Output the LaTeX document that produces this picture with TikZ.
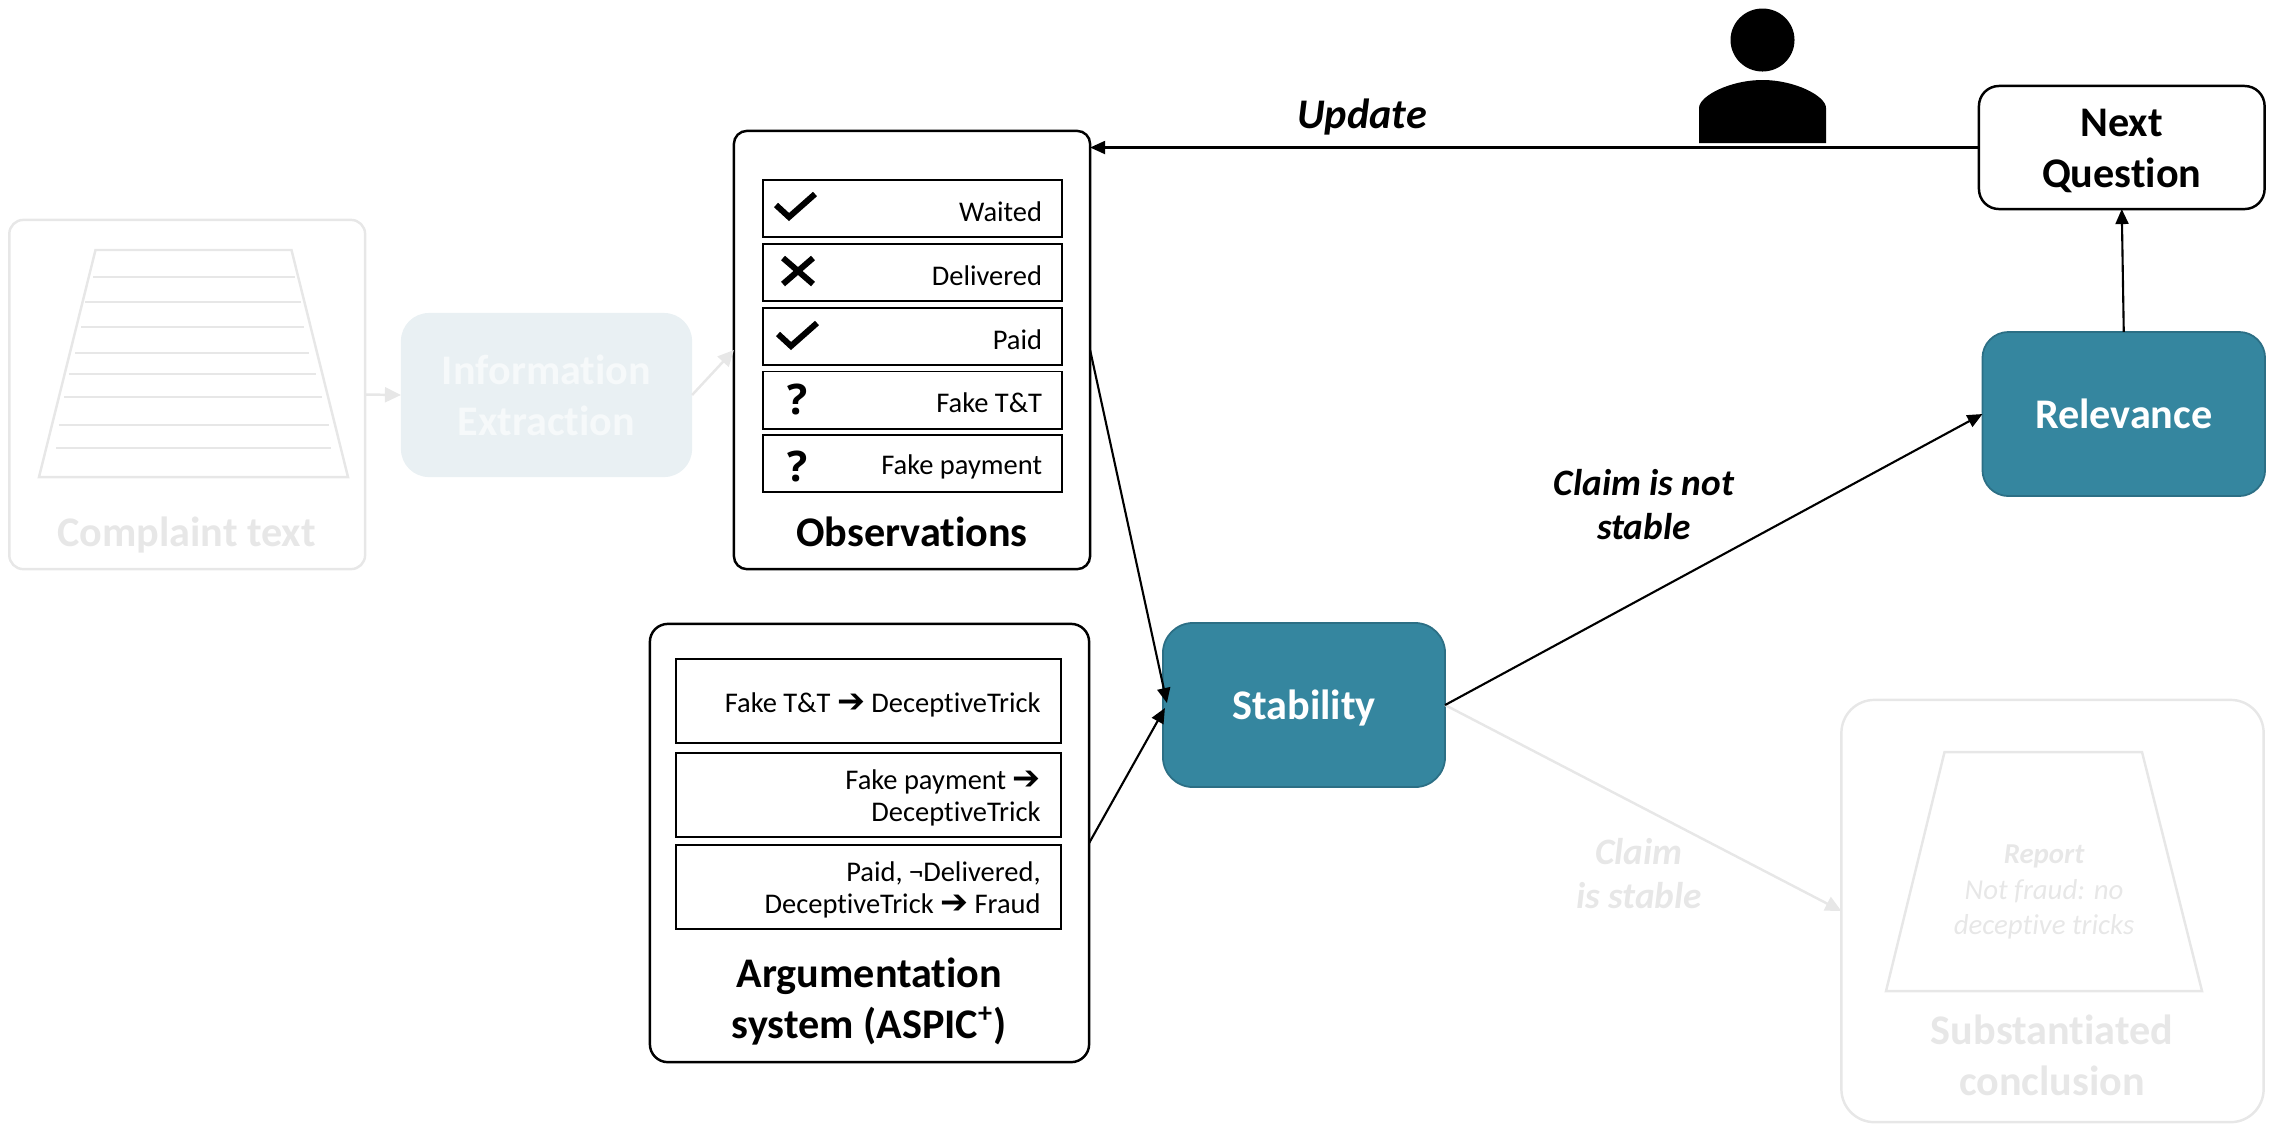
\documentclass[tikz,border=0pt]{standalone}
\usepackage{fontspec}
\setmainfont{Carlito}[Ligatures={NoCommon}]
\newfontfamily\symfont{DejaVu Sans}
\newfontfamily\qfont{Open Sans}
\usetikzlibrary{arrows.meta}
\definecolor{faint}{HTML}{E7E7E7}
\definecolor{tealfill}{HTML}{35869F}
\definecolor{tealedge}{HTML}{2C6F85}
\definecolor{paleblue}{HTML}{E9F0F3}
\definecolor{palefg}{HTML}{F6F9FA}
\newcommand{\bigfont}{\fontsize{12}{14.2}\selectfont}
\newcommand{\midfont}{\fontsize{10.6}{12.5}\selectfont}
\newcommand{\smallfont}{\fontsize{8.1}{9.25}\selectfont}
\newcommand{\rarr}{{\symfont\bfseries\fontsize{9.5}{9.25}\selectfont ➔}}
\tikzset{
  every node/.style={inner sep=0pt,outer sep=0pt},
  card/.style={draw=black,line width=0.7pt,fill=white,rectangle},
  ghostcard/.style={draw=faint,line width=0.7pt,rectangle},
  tealbox/.style={draw=tealedge,line width=0.5pt,fill=tealfill,text=white,text depth=0pt,font=\bigfont\bfseries,rectangle},
  rowbox/.style={draw=black,line width=0.55pt,rectangle,minimum width=2.99cm,minimum height=0.57cm},
  rulebox/.style={draw=black,line width=0.55pt,rectangle,minimum width=3.845cm,minimum height=0.84cm},
  boxtext/.style={anchor=east,align=right,font=\smallfont},
  boxtitle/.style={font=\bigfont\bfseries,align=center},
  ghosttitle/.style={font=\bigfont\bfseries,align=center,text=faint},
  edgelabel/.style={font=\bigfont\bfseries\itshape,align=center},
  sidelabel/.style={font=\midfont\bfseries\itshape,align=center},
  link/.style={draw=black,line width=0.6pt,-{Triangle[length=0.15cm,width=0.13cm]}},
  ghostlink/.style={draw=faint,line width=0.7pt,-{Triangle[length=0.16cm,width=0.15cm]}},
  tickmark/.style={draw=black,line width=1.7pt},
  ghostline/.style={draw=faint,line width=0.4pt},
  ghostshape/.style={draw=faint,line width=0.7pt,line join=miter},
  qmark/.style={font=\qfont\bfseries\fontsize{12}{12}\selectfont},
}
\begin{document}
\begin{tikzpicture}[x=0.01cm,y=-0.01cm]
\useasboundingbox (0,0) rectangle (2279,1123);

% faded left part
\node[ghostcard,rounded corners=0.14cm,minimum width=3.556cm,minimum height=3.49cm] (complaint) at (187.2,394.5) {};
\draw[ghostshape] (95.5,250) -- (291.5,250) -- (348,477) -- (39,477) -- cycle;
\draw[ghostline] (93,277) -- (294.5,277);
\draw[ghostline] (84.5,302) -- (300.5,302);
\draw[ghostline] (81,327) -- (304,327);
\draw[ghostline] (75,353) -- (308.5,353);
\draw[ghostline] (68.5,374) -- (315.5,374);
\draw[ghostline] (64,397) -- (322,397);
\draw[ghostline] (58.7,425) -- (328.5,425);
\draw[ghostline] (56,448) -- (331,448);
\node[ghosttitle] (complainttitle) at (186.5,535) {Complaint text};
\node[rectangle,fill=paleblue,rounded corners=0.28cm,minimum width=2.91cm,minimum height=1.64cm,
  font=\bigfont\bfseries,text=palefg,align=center] (ie) at (546.5,395) {Information\\[0.3pt]Extraction};

% observations
\node[card,rounded corners=0.13cm,minimum width=3.56cm,minimum height=4.38cm] (obs) at (912,350) {};
\node[rowbox] (r1) at (912.5,208.5) {};
\node[rowbox] (r2) at (912.5,272.5) {};
\node[rowbox] (r3) at (912.5,336.5) {};
\node[rowbox] (r4) at (912.5,400) {};
\node[rowbox] (r5) at (912.5,463.5) {};
\node[boxtext] (t1) at ([shift={(-20,3)}]r1.east) {Waited};
\node[boxtext] (t2) at ([shift={(-20,3)}]r2.east) {Delivered};
\node[boxtext] (t3) at ([shift={(-20,3)}]r3.east) {Paid};
\node[boxtext] (t4) at ([shift={(-20,3)}]r4.east) {Fake T\&T};
\node[boxtext] (t5) at ([shift={(-20,3)}]r5.east) {Fake payment};
\draw[tickmark] (776,205) -- (789,217) -- (815,194);
\draw[tickmark] (783,258) -- (813,284) (813,258) -- (783,284);
\draw[tickmark] (778,334) -- (791,346) -- (817,323);
\node[qmark] (q1) at (798,399) {?};
\node[qmark] (q2) at (798,466.5) {?};
\node[boxtitle] (obstitle) at (912,532) {Observations};

% argumentation system
\node[card,rounded corners=0.18cm,minimum width=4.39cm,minimum height=4.38cm] (arg) at (869.5,843) {};
\node[rulebox] (a1) at (868.25,701) {};
\node[rulebox] (a2) at (868.25,795) {};
\node[rulebox] (a3) at (868.25,887) {};
\node[boxtext] (at1) at ([shift={(-20,4)}]a1.east) {Fake T\&T \rarr{} DeceptiveTrick};
\node[boxtext] (at2) at ([shift={(-20,3)}]a2.east) {Fake payment \rarr{}\\DeceptiveTrick};
\node[boxtext] (at3) at ([shift={(-20,3)}]a3.east) {Paid, ¬Delivered,\\DeceptiveTrick \rarr{} Fraud};
\node[boxtitle] (argtitle) at (869.5,1001) {Argumentation\\[0.3pt]system (ASPIC\textsuperscript{+})};

% process boxes
\node[tealbox,text depth=-0.4pt,rounded corners=0.3cm,minimum width=2.82cm,minimum height=1.64cm] (stab) at (1304,705) {Stability};
\node[tealbox,rounded corners=0.26cm,minimum width=2.825cm,minimum height=1.64cm] (rel) at (2123.75,414) {Relevance};
\node[card,rounded corners=0.2cm,minimum width=2.855cm,minimum height=1.23cm] (nq) at (2121.75,147.5) {};
\node[boxtitle] (nqtext) at (2121.75,150.5) {Next\\[0.3pt]Question};

% faded conclusion
\node[ghostcard,rounded corners=0.33cm,minimum width=4.22cm,minimum height=4.22cm] (sub) at (2052.5,911) {};
\draw[ghostshape] (1944.5,752) -- (2142,752) -- (2202,991) -- (1886,991) -- cycle;
\node[font=\fontsize{8.2}{10}\selectfont\itshape,text=faint,align=center] (report) at (2044,892) {\textbf{Report}\\Not fraud: no\\deceptive tricks};
\node[ghosttitle] (subtitle) at (2052,1055) {Substantiated\\[0.3pt]conclusion};

% person
\fill[black] (1762.5,40) ellipse [x radius=32,y radius=31.5];
\fill[black] (1699,143) -- (1699,108) .. controls (1699,96) and (1730,80) .. (1762.5,80)
  .. controls (1795,80) and (1826,96) .. (1826,108) -- (1826,143) -- cycle;

% connectors
\draw[ghostlink] (complaint.east) -- (ie.west);
\draw[ghostlink] (ie.east) -- (obs.west);
\draw[ghostlink] (stab.east) -- (sub.west);
\draw[link] (obs.east) -- ([shift={(4,-2)}]stab.west);
\draw[link] (arg.east) -- ([shift={(2,3)}]stab.west);
\draw[link] (stab.east) -- (rel.west);
\draw[link] (rel.north) -- (nq.south);
\draw[link] (nq.west) -- (nq.west -| obs.east);

% connector labels
\node[edgelabel] (update) at (1362,117) {Update};
\node[sidelabel] (notstable) at (1644,505) {Claim is not\\stable};
\node[sidelabel,text=faint] (stable) at (1639,874) {Claim\\is stable};
\end{tikzpicture}
\end{document}
